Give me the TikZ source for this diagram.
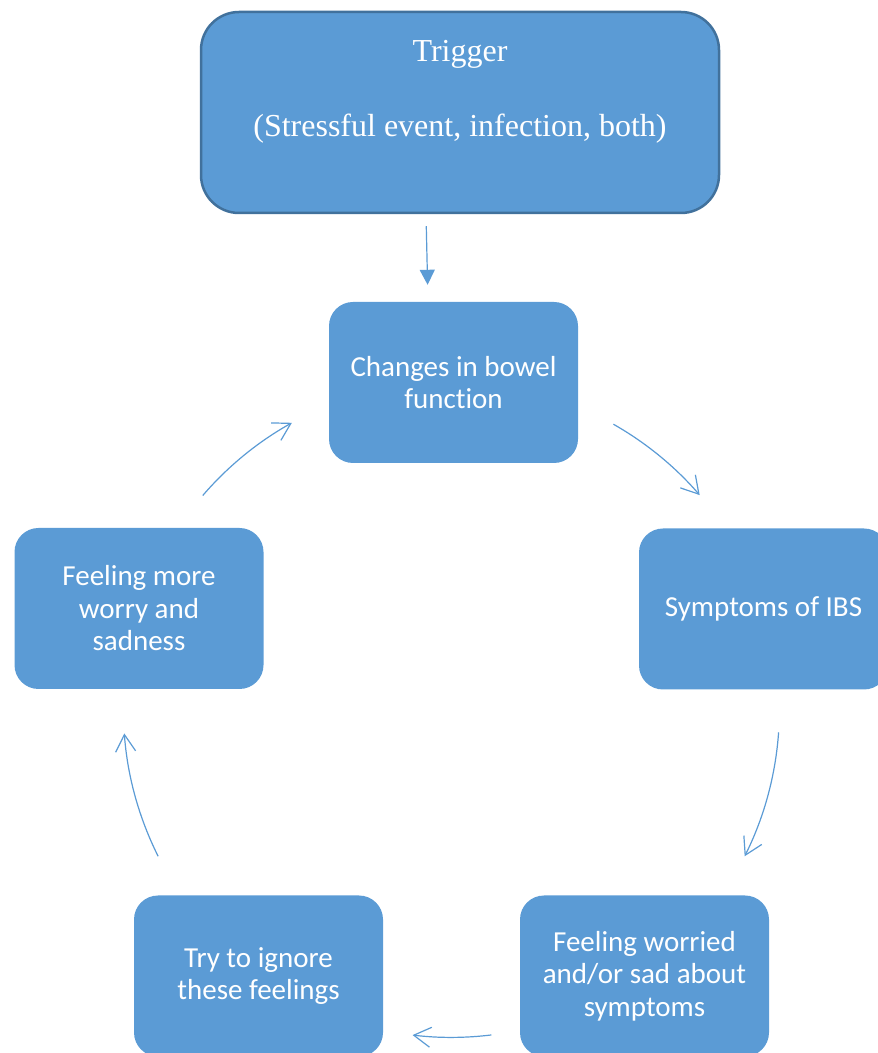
\documentclass[tikz,border=0pt]{standalone}
\usepackage{fontspec}
\setmainfont{Liberation Serif}
\newfontfamily\calibri[Ligatures=NoCommon]{Carlito}
\usetikzlibrary{arrows.meta,shapes}
\definecolor{bleu}{HTML}{5B9BD5}
\definecolor{bleufonce}{HTML}{41719C}

\begin{document}
\begin{tikzpicture}[x=1pt,y=1pt,
        etape/.style={fill=bleu,rounded corners=24pt,minimum width=249pt,minimum height=161pt,inner sep=0pt,align=center,text=white,font=\calibri\fontsize{29}{32.5}\selectfont}]
        \useasboundingbox (0,0) rectangle (878,1053);
        \node[fill=bleu,draw=bleufonce,line width=2.5pt,rounded corners=38pt,minimum width=518pt,minimum height=201pt,align=center,text=white,font=\fontsize{32}{37.5}\selectfont] (T) at (460,940.5) {Trigger\\ \mbox{}\\ (Stressful event, infection, both)\\ \rule[-10.5pt]{0pt}{10.5pt}};
        \node[etape] (CB) at (453.5,670.5) {Changes in bowel\\ function};
        \node[etape] (SI) at (763.5,444) {Symptoms of IBS};
        \node[etape] (FW) at (644.5,77) {Feeling worried\\ and/or sad about\\ symptoms};
        \node[etape] (TI) at (258.5,77) {Try to ignore\\ these feelings};
        \node[etape] (FM) at (139,444.5) {Feeling more\\ worry and\\ sadness};
        \coordinate (O) at (451.4,343.6);
        \tikzset{fleche/.style={-{Straight Barb[length=17pt,width=20pt]},bleu,line width=1.2pt},
                 pleine/.style={-{Triangle[length=15pt,width=15pt]},bleu,line width=1.2pt}}
        \draw[pleine,shorten <=12pt,shorten >=17pt] ([xshift=-34pt]T.south) -- ([xshift=-25.5pt]CB.north);
        \draw[fleche] ([shift={(60.4:328)}]O) arc[start angle=60.4,end angle=40.8,radius=328];
        \draw[fleche] ([shift={(-4:328)}]O) arc[start angle=-4,end angle=-26.6,radius=328];
        \draw[fleche] ([shift={(-83:328)}]O) arc[start angle=-83,end angle=-96.8,radius=328];
        \draw[fleche] ([shift={(206.6:328)}]O) arc[start angle=206.6,end angle=184.2,radius=328];
        \draw[fleche] ([shift={(139.3:328)}]O) arc[start angle=139.3,end angle=119.1,radius=328];
\end{tikzpicture}
\end{document}
